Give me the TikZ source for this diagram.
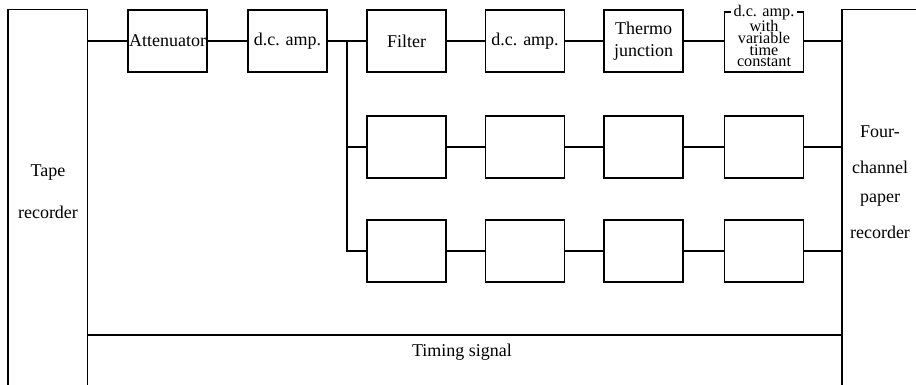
\documentclass[tikz,border=0pt]{standalone}
\usepackage{fontspec}
\setmainfont{Liberation Serif}
\begin{document}
\begin{tikzpicture}[x=0.5pt,y=-0.5pt,
  every node/.style={font=\fontsize{9}{11}\selectfont},
  unit/.style={draw,line width=0.9pt,minimum width=39.5pt,minimum height=31pt,inner sep=0pt,align=center},
  frame/.style={draw=none,inner sep=0pt,minimum width=39.5pt,minimum height=187.5pt},
  edge/.style={draw,line width=0.6pt},
  label/.style={inner sep=0pt},
  tight/.style={inner sep=0pt,font=\fontsize{8.1}{8.1}\selectfont}]
\useasboundingbox (0,0) rectangle (916,385);

% recorders at both ends (open frames)
\node[frame] (tape) at (47.5,197.5) {};
\node[frame] (rec) at (881.5,197.5) {};
\draw[line width=0.9pt] (tape.south west) -- (tape.north west) -- (tape.north east) -- (tape.south east);
\draw[line width=0.9pt] (rec.south west) -- (rec.north west) -- (rec.north east);
\node[label] (tapeA) at (48,173) {Tape};
\node[label] (tapeB) at (48,212) {recorder};
\node[label] (recA) at (880,132) {Four-};
\node[label] (recB) at (880,167) {channel};
\node[label] (recC) at (880,200) {paper};
\node[label] (recD) at (880,232) {recorder};

% first row
\node[unit] (att) at (167.5,41) {Attenuator};
\node[unit] (dca) at (287.5,41) {d.c. amp.};
\node[unit] (a1) at (406.5,41) {Filter};
\node[unit] (a2) at (525,41) {d.c. amp.};
\node[unit] (a3) at (643.5,41) {Thermo\\junction};
\node[unit,minimum height=30pt] (a4) at (764,42) {};
% the heading line breaks the top border of its box
\node[tight,fill=white,inner xsep=1.5pt,inner ysep=0.3pt] (a4l1) at (764,13) {d.c. amp.};
\node[tight] (a4l2) at (764,25.5) {with};
\node[tight] (a4l3) at (764,37.8) {variable};
\node[tight] (a4l4) at (764,50) {time};
\node[tight] (a4l5) at (764,62.3) {constant};

% second and third rows
\foreach \r/\y in {b/147,c/251}{
  \node[unit] (\r1) at (406.5,\y) {};
  \node[unit] (\r2) at (525,\y) {};
  \node[unit] (\r3) at (643.5,\y) {};
  \node[unit] (\r4) at (764,\y) {};
}

% connectors
\draw[edge] (tape.east |- att.west) -- (att.west);
\draw[edge] (att.east) -- (dca.west);
\draw[edge] (dca.east) -- (a1.west);
\coordinate (split) at (347,41);
\draw[edge] (split) |- (c1.west);
\draw[edge] (split |- b1.west) -- (b1.west);
\foreach \r in {a,b,c}{
  \draw[edge] (\r1.east) -- (\r2.west);
  \draw[edge] (\r2.east) -- (\r3.west);
}
\draw[edge] (a3.east) -- (a3.east -| a4.west);
\draw[edge] (b3.east) -- (b4.west);
\draw[edge] (c3.east) -- (c4.west);
\foreach \r in {b,c}{
  \draw[edge] (\r4.east) -- (rec.west |- \r4.east);
}
\draw[edge] (a4.east |- a3.east) -- (rec.west |- a3.east);

% timing signal line
\coordinate (tim) at (0,335);
\draw[edge] (tape.east |- tim) -- (rec.west |- tim);
\node[label] (timtxt) at (462,352) {Timing signal};
\end{tikzpicture}
\end{document}
